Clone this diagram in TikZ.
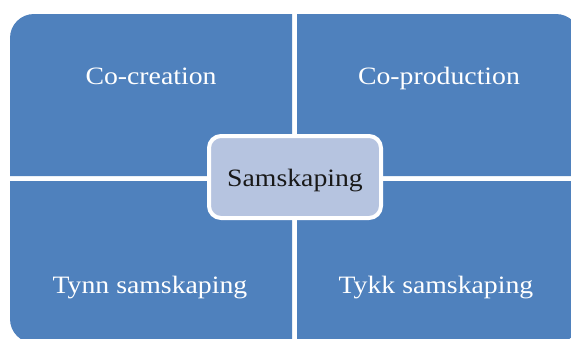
\documentclass[tikz,border=0pt]{standalone}
\usepackage{fontspec}
\setmainfont[FakeStretch=1.11]{Liberation Serif}
\definecolor{quadblue}{RGB}{79,129,189}
\definecolor{centerfill}{RGB}{182,196,224}
\begin{document}
\begin{tikzpicture}[x=1pt,y=-1pt,
  quad/.style={fill=quadblue},
  qtext/.style={text=white,font=\fontsize{25}{30}\selectfont,anchor=base},
  ctext/.style={text=black!90,font=\fontsize{25}{30}\selectfont,anchor=base}]
\useasboundingbox (0,0) rectangle (571,338);
\fill[white] (0,0) rectangle (571,338);
% top-left
\fill[quad] (10,176) [rounded corners=24] -- (10,14) [sharp corners] -- (292,14) -- (292,176) -- cycle;
% top-right
\fill[quad] (297,14) [rounded corners=24] -- (580,14) [sharp corners] -- (580,176) -- (297,176) -- cycle;
% bottom-left
\fill[quad] (292,181) -- (10,181) [rounded corners=24] -- (10,343) [sharp corners] -- (292,343) -- cycle;
% bottom-right
\fill[quad] (297,181) -- (580,181) [rounded corners=24] -- (580,343) [sharp corners] -- (297,343) -- cycle;
% center
\draw[white,line width=4pt,fill=centerfill,rounded corners=12] (209,136) rectangle (381,218);
\node[qtext] (cocreation) at (151,84) {Co-creation};
\node[qtext] (coproduction) at (439,84) {Co-production};
\node[qtext] (tynn) at (150,293) {Tynn samskaping};
\node[qtext] (tykk) at (436,293) {Tykk samskaping};
\node[ctext] (samskaping) at (295,186) {Samskaping};
\end{tikzpicture}
\end{document}
